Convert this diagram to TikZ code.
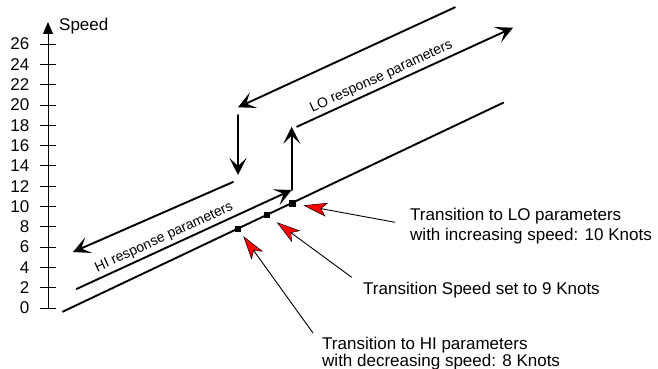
\documentclass[tikz,border=0pt]{standalone}
\usepackage{fontspec}
\setmainfont{Liberation Sans}
\usetikzlibrary{arrows.meta}

\tikzset{
  track/.style={line width=1.9pt, line cap=round},
  flow/.style={track, -{Stealth[length=17pt, width=17pt, inset=8pt]}},
  pointer/.style={line width=0.9pt, -{Stealth[length=24pt, width=14pt, inset=6pt, fill=red, line width=0.5pt]}},
  marker/.style={fill=black, inner sep=0pt, minimum size=6.5pt},
  note/.style={align=left, anchor=base west, inner sep=0pt},
  phase/.style={font=\fontsize{14}{14}\selectfont, sloped, above=2.5pt, inner sep=1pt},
}

\begin{document}
\begin{tikzpicture}[x=1pt, y=-1pt, font=\fontsize{17}{20}\selectfont, line join=round]
	\useasboundingbox (0,0) rectangle (658,369);
	% speed axis
	\coordinate (axisbot) at (48,308);
	\coordinate (axistop) at (48,22);
	\draw[line width=0.8pt, -{Triangle[length=12pt, width=10pt]}] (axisbot) -- (axistop);
	\node[anchor=base west, inner sep=0pt] (speed) at (59,30.5) {Speed};
	\foreach \v in {0,2,...,26} {
		\coordinate (tick\v) at (48, {308-10.154*\v});
		\draw[line width=0.8pt] ([xshift=-8pt]tick\v) -- ([xshift=8pt]tick\v);
		\node[anchor=east, inner sep=0pt] (lab\v) at ([xshift=-18.5pt]tick\v) {\v};
	}
	% transition line and markers
	\coordinate (baseS) at (62.7,311.7);
	\coordinate (baseE) at (503.3,102.7);
	\draw[track] (baseS) -- (baseE);
	\node[marker, minimum size=5.5pt] (m8) at (238,228.8) {};
	\node[marker] (m9) at (267,215.1) {};
	\node[marker, minimum size=7pt] (m10) at (292,203.3) {};
	% hysteresis loop
	\coordinate (hiS) at (76.5,289);
	\coordinate (hiE) at (291.7,190);
	\coordinate (upE) at (291.7,126.7);
	\coordinate (loS) at (297,126.7);
	\coordinate (loE) at (513,27.7);
	\coordinate (topS) at (455,7.3);
	\coordinate (topE) at (238,107.3);
	\coordinate (downS) at (238,115);
	\coordinate (downE) at (238,175);
	\coordinate (retS) at (233,182);
	\coordinate (retE) at (73,252);
	\draw[flow] (hiS) -- (hiE);
	\draw[flow] (hiE) -- (upE);
	\draw[flow] (loS) -- (loE);
	\draw[flow] (topS) -- (topE);
	\draw[flow] (downS) -- (downE);
	\draw[flow] (retS) -- (retE);
	\path (hiS) -- (hiE) node[phase, pos=0.427] (hilab) {HI response parameters};
	\path (loS) -- (loE) node[phase, pos=0.41] (lolab) {LO response parameters};
	% notes
	\node[note] (n10) at (410,240) {Transition to LO parameters\\with increasing speed: 10 Knots};
	\node[note] (n9) at (363,294) {Transition Speed set to 9 Knots};
	\node[note, font=\fontsize{17}{16.7}\selectfont] (n8) at (322,366) {Transition to HI parameters\\with decreasing speed: 8 Knots};
	\coordinate (t10) at (395,222.3);
	\coordinate (t9) at (351.7,277.3);
	\coordinate (t8) at (313,333);
	\draw[pointer, shorten >=11.5pt] (t10) -- (m10.center);
	\draw[pointer, shorten >=12pt] (t9) -- (m9.center);
	\draw[pointer, shorten >=9pt] (t8) -- (m8.center);
\end{tikzpicture}
\end{document}
